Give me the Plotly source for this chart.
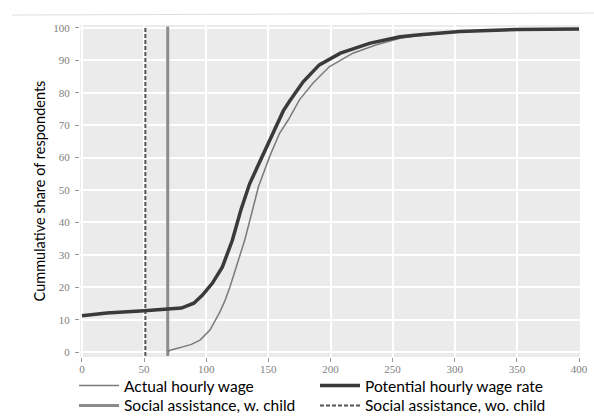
import plotly.graph_objects as go

# Empirical cumulative distributions of hourly wages (in currency units)
actual_wage = [70, 70, 79, 88, 95, 103, 111, 115, 119, 124, 131, 136, 142, 151,
               159, 166, 175, 186, 199, 218, 237, 256, 272, 304, 350, 400]
actual_share = [0, 0.5, 1.4, 2.4, 3.7, 6.8, 12.4, 15.8, 20, 26.3, 34.6, 42, 51,
                60.3, 67.5, 71.6, 77.8, 83, 88, 92.2, 94.8, 96.8, 97.7, 98.9,
                99.5, 99.7]

potential_wage = [0, 20, 50, 70, 80, 90, 97, 105, 113, 121, 128, 135, 145, 153,
                  158, 162, 167, 178, 191, 208, 232, 256, 272, 304, 350, 400]
potential_share = [11.2, 12.1, 12.8, 13.2, 13.6, 15.1, 17.6, 21.3, 26.3, 34.5, 44,
                   52, 60.3, 67.3, 71.6, 74.4, 77.4, 83.4, 88.6, 92.2, 95.3, 97.3,
                   97.9, 98.9, 99.5, 99.7]

# Social assistance levels expressed as an hourly rate
assist_with_child = 69
assist_without_child = 51
vline_span = [-1.2, 100.4]

x_ticks = [0, 50, 100, 150, 200, 250, 300, 350, 400]
y_ticks = [0, 10, 20, 30, 40, 50, 60, 70, 80, 90, 100]

fig = go.Figure()

# Wage distributions go in the first legend row, assistance levels in the second
fig.add_trace(go.Scatter(
    x=[assist_without_child, assist_without_child], y=vline_span, mode="lines",
    name="Social assistance, wo. child", legend="legend2", legendrank=2,
    line=dict(color="#555555", width=2, dash="4px,2px")))
fig.add_trace(go.Scatter(
    x=[assist_with_child, assist_with_child], y=vline_span, mode="lines",
    name="Social assistance, w. child", legend="legend2", legendrank=1,
    line=dict(color="#8c8c8c", width=3)))
fig.add_trace(go.Scatter(
    x=actual_wage, y=actual_share, mode="lines", name="Actual hourly wage",
    legend="legend", legendrank=1, line=dict(color="#7a7a7a", width=1.5)))
fig.add_trace(go.Scatter(
    x=potential_wage, y=potential_share, mode="lines",
    name="Potential hourly wage rate", legend="legend", legendrank=2,
    line=dict(color="#3a3a3a", width=3.5)))

tick_font = dict(family="Liberation Serif, Times New Roman, serif", size=11,
                 color="#808080")

legend_style = dict(
    orientation="h", x=-0.012, xanchor="left", yanchor="top",
    font=dict(family="Lato", size=15.5, color="black"),
    itemwidth=40, entrywidth=186, entrywidthmode="pixels",
    bgcolor="rgba(0,0,0,0)", traceorder="normal")

fig.update_layout(
    width=594, height=420,
    margin=dict(l=80, r=14, t=25, b=63, autoexpand=False),
    paper_bgcolor="white",
    plot_bgcolor="#ebebeb",
    font=dict(family="Lato", color="black"),
    showlegend=True,
    legend=dict(legend_style, y=-0.036),
    legend2=dict(legend_style, y=-0.096),
    xaxis=dict(
        range=[-1.6, 400.8], tickvals=x_ticks, showgrid=True,
        gridcolor="white", gridwidth=1.5, zeroline=False,
        ticks="outside", ticklen=4, tickcolor="#999999",
        ticklabelstandoff=-2,
        tickfont=tick_font, showline=False),
    yaxis=dict(
        range=[-1.5, 100.9], tickvals=y_ticks, showgrid=True,
        gridcolor="white", gridwidth=1.5, zeroline=False,
        ticks="outside", ticklen=4, tickcolor="#999999",
        ticklabelstandoff=3,
        tickfont=tick_font, showline=False,
        title=dict(text="Cummulative share of respondents",
                   font=dict(family="Lato", size=14.5, color="black"),
                   standoff=4)),
)

# Faint page edge above the chart
fig.add_shape(type="line", xref="paper", yref="paper",
              x0=-0.136, x1=1.03, y0=1.03, y1=1.036,
              line=dict(color="#dddddd", width=1))

fig.write_html("out.html")
